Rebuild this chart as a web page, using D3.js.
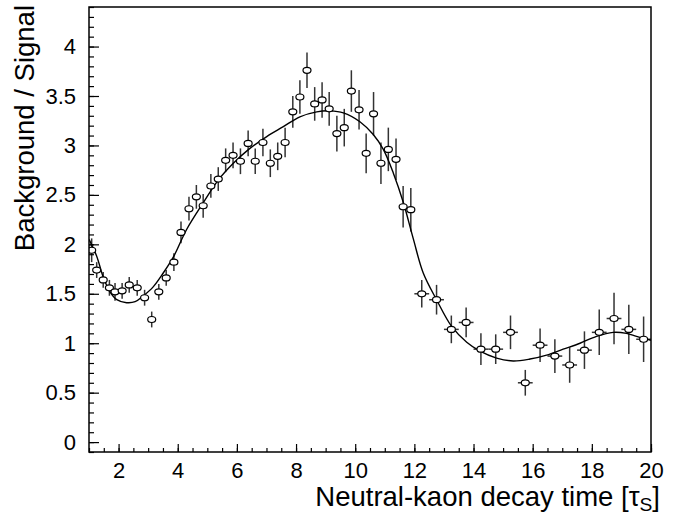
<!DOCTYPE html>
<html>
<head>
<meta charset="utf-8">
<script src="https://cdn.jsdelivr.net/npm/d3@7"></script>
<style>
  body { margin: 0; background: #fff; }
  svg { display: block; font-family: "Liberation Sans", Arial, sans-serif; }
</style>
</head>
<body>
<svg id="chart" width="680" height="518"></svg>
<script>
(function(){
    // measured points: bin centre, ratio, half bin width, error
    var pointX = [1.09, 1.26, 1.48, 1.69, 1.88, 2.12, 2.36, 2.63, 2.88, 3.12, 3.36, 3.61, 3.87, 4.11,
                  4.38, 4.63, 4.86, 5.12, 5.37, 5.62, 5.87, 6.12, 6.38, 6.62, 6.88, 7.13, 7.38, 7.63,
                  7.89, 8.13, 8.37, 8.63, 8.88, 9.12, 9.38, 9.63, 9.87, 10.13, 10.37, 10.62, 10.87,
                  11.12, 11.38, 11.62, 11.88, 12.25, 12.75, 13.25, 13.75, 14.25, 14.75, 15.25, 15.75,
                  16.25, 16.75, 17.25, 17.75, 18.25, 18.75, 19.25, 19.75];
    var pointY = [1.94, 1.74, 1.64, 1.56, 1.52, 1.53, 1.59, 1.56, 1.46, 1.24, 1.52, 1.66, 1.82, 2.12,
                  2.36, 2.48, 2.39, 2.59, 2.66, 2.85, 2.90, 2.84, 3.02, 2.84, 3.03, 2.82, 2.89, 3.03,
                  3.34, 3.49, 3.76, 3.42, 3.46, 3.37, 3.12, 3.18, 3.55, 3.36, 2.92, 3.32, 2.82,
                  2.96, 2.86, 2.38, 2.35, 1.50, 1.44, 1.14, 1.21, 0.94, 0.94, 1.11, 0.60,
                  0.98, 0.87, 0.78, 0.93, 1.11, 1.25, 1.14, 1.04];
    var pointXErr = [0.09, 0.1, 0.1, 0.1, 0.125, 0.125, 0.125, 0.125, 0.125, 0.125, 0.125, 0.125, 0.125, 0.125,
                     0.125, 0.125, 0.125, 0.125, 0.125, 0.125, 0.125, 0.125, 0.125, 0.125, 0.125, 0.125, 0.125, 0.125,
                     0.125, 0.125, 0.125, 0.125, 0.125, 0.125, 0.125, 0.125, 0.125, 0.125, 0.125, 0.125, 0.125,
                     0.125, 0.125, 0.125, 0.125, 0.25, 0.25, 0.25, 0.25, 0.25, 0.25, 0.25, 0.25,
                     0.25, 0.25, 0.25, 0.25, 0.25, 0.25, 0.25, 0.25];
    var pointYErr = [0.12, 0.08, 0.08, 0.08, 0.09, 0.08, 0.08, 0.08, 0.08, 0.08, 0.08, 0.08, 0.09, 0.11,
                     0.12, 0.12, 0.12, 0.12, 0.12, 0.12, 0.13, 0.13, 0.13, 0.13, 0.14, 0.14, 0.14, 0.15,
                     0.16, 0.17, 0.18, 0.17, 0.18, 0.17, 0.18, 0.19, 0.21, 0.20, 0.20, 0.22, 0.21,
                     0.22, 0.21, 0.21, 0.22, 0.14, 0.15, 0.14, 0.15, 0.16, 0.15, 0.17, 0.13,
                     0.17, 0.17, 0.18, 0.19, 0.23, 0.26, 0.25, 0.23];

    // fitted curve
    var fitX = [1.00, 1.26, 1.48, 1.71, 1.94, 2.27, 2.56, 2.84, 3.17, 3.51, 3.85, 4.30, 4.86, 5.37,
                5.88, 6.44, 7.01, 7.57, 8.13, 8.70, 9.15, 9.60, 10.16, 10.61, 10.95, 11.29, 11.63,
                11.96, 12.30, 12.75, 13.26, 13.77, 14.22, 14.78, 15.34, 15.91, 16.47, 17.03, 17.60,
                18.16, 18.72, 19.17, 19.51, 20.00];
    var fitY = [2.05, 1.88, 1.67, 1.52, 1.44, 1.41, 1.42, 1.48, 1.57, 1.71, 1.87, 2.15, 2.42, 2.65,
                2.82, 2.97, 3.09, 3.19, 3.29, 3.34, 3.35, 3.33, 3.24, 3.11, 2.96, 2.72, 2.42,
                2.06, 1.71, 1.44, 1.17, 1.01, 0.92, 0.85, 0.82, 0.84, 0.88, 0.94, 1.00,
                1.07, 1.11, 1.10, 1.07, 1.03];

    var xMajor = [2, 4, 6, 8, 10, 12, 14, 16, 18, 20],
        yMajor = [0, 0.5, 1, 1.5, 2, 2.5, 3, 3.5, 4];

    var frame = {left: 89, right: 651, top: 7, bottom: 452},
        fontSize = 22,
        titleSize = 27.5;

    var svg = d3.select("#chart");

    var x = d3.scaleLinear().domain([1, 20]).range([frame.left, frame.right]);
    var y = d3.scaleLinear().domain([-0.1, 4.4]).range([frame.bottom, frame.top]);

    svg.append("defs").append("clipPath").attr("id", "plotClip")
        .append("rect")
        .attr("x", frame.left).attr("y", frame.top)
        .attr("width", frame.right - frame.left)
        .attr("height", frame.bottom - frame.top);

    var points = pointX.map(function(d, i){
        return {x: d, y: pointY[i], ex: pointXErr[i], ey: pointYErr[i]};
    });

    var plot = svg.append("g").attr("clip-path", "url(#plotClip)");

    // error bars
    var bars = plot.append("g")
        .attr("stroke", "#333")
        .attr("stroke-width", 1.5);

    bars.selectAll("line.ey")
        .data(points)
        .enter()
        .append("line")
        .attr("class", "ey")
        .attr("x1", function(d){ return x(d.x); })
        .attr("x2", function(d){ return x(d.x); })
        .attr("y1", function(d){ return y(d.y + d.ey); })
        .attr("y2", function(d){ return y(d.y - d.ey); });

    bars.selectAll("line.ex")
        .data(points)
        .enter()
        .append("line")
        .attr("class", "ex")
        .attr("x1", function(d){ return x(d.x - d.ex); })
        .attr("x2", function(d){ return x(d.x + d.ex); })
        .attr("y1", function(d){ return y(d.y); })
        .attr("y2", function(d){ return y(d.y); });

    // fit curve
    var line = d3.line()
        .x(function(d){ return x(d[0]); })
        .y(function(d){ return y(d[1]); })
        .curve(d3.curveCatmullRom.alpha(0.5));

    plot.append("path")
        .datum(d3.zip(fitX, fitY))
        .attr("fill", "none")
        .attr("stroke", "#000")
        .attr("stroke-width", 1.4)
        .attr("d", line);

    // markers (open circles)
    plot.append("g").selectAll("ellipse")
        .data(points)
        .enter()
        .append("ellipse")
        .attr("cx", function(d){ return x(d.x); })
        .attr("cy", function(d){ return y(d.y); })
        .attr("rx", 4)
        .attr("ry", 3)
        .attr("fill", "#fff")
        .attr("stroke", "#000")
        .attr("stroke-width", 1.2);

    // axes: ticks point inwards like ROOT
    var xMinor = d3.range(1, 20.001, 0.5),
        yMinor = d3.range(-0.1, 4.4001, 0.1);

    svg.append("g")
        .attr("transform", "translate(0," + frame.bottom + ")")
        .call(d3.axisBottom(x).tickValues(xMinor).tickSize(-4).tickFormat(""))
        .call(function(g){ g.select(".domain").remove(); });

    svg.append("g")
        .attr("transform", "translate(0," + frame.bottom + ")")
        .call(d3.axisBottom(x).tickValues(xMajor).tickSize(-8).tickPadding(10).tickFormat(d3.format("~g")))
        .call(function(g){
            g.select(".domain").remove();
            g.selectAll("text").attr("font-size", fontSize).attr("font-family", null).attr("fill", "#000");
        });

    svg.append("g")
        .attr("transform", "translate(" + frame.left + ",0)")
        .call(d3.axisLeft(y).tickValues(yMinor).tickSize(-5).tickFormat(""))
        .call(function(g){ g.select(".domain").remove(); });

    svg.append("g")
        .attr("transform", "translate(" + frame.left + ",0)")
        .call(d3.axisLeft(y).tickValues(yMajor).tickSize(-10).tickPadding(13).tickFormat(d3.format("~g")))
        .call(function(g){
            g.select(".domain").remove();
            g.selectAll("text").attr("font-size", fontSize).attr("font-family", null).attr("fill", "#000");
        });

    svg.selectAll(".tick line").attr("stroke", "#000").attr("stroke-width", 1.2);

    // frame
    svg.append("rect")
        .attr("x", frame.left).attr("y", frame.top)
        .attr("width", frame.right - frame.left)
        .attr("height", frame.bottom - frame.top)
        .attr("fill", "none")
        .attr("stroke", "#000")
        .attr("stroke-width", 1.5);

    // titles
    var xt = svg.append("text")
        .attr("x", 660).attr("y", 506)
        .attr("text-anchor", "end")
        .attr("font-size", titleSize)
        .text("Neutral-kaon decay time [\u03C4");
    xt.append("tspan").attr("font-size", titleSize * 0.7).attr("dy", 5).text("S");
    xt.append("tspan").attr("dy", -5).text("]");

    svg.append("text")
        .attr("transform", "translate(34,5) rotate(-90)")
        .attr("text-anchor", "end")
        .attr("font-size", titleSize)
        .text("Background / Signal");
})();
</script>
</body>
</html>
